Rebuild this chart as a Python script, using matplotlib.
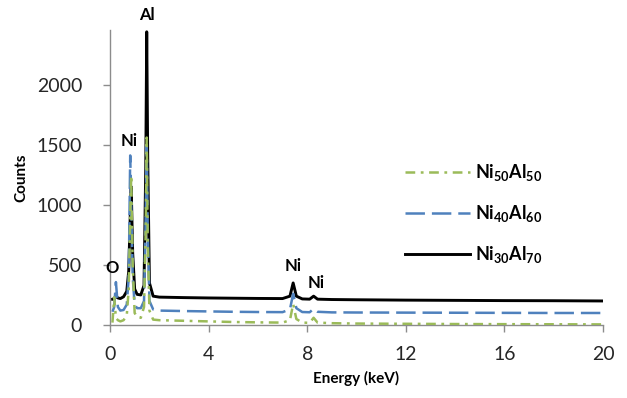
import matplotlib
matplotlib.use("Agg")
import matplotlib.pyplot as plt
from matplotlib.lines import Line2D

plt.rcParams['font.family'] = ['Lato', 'DejaVu Sans']
plt.rcParams['mathtext.fontset'] = 'custom'
plt.rcParams['mathtext.bf'] = 'Lato:bold'
plt.rcParams['mathtext.rm'] = 'Lato:bold'
plt.rcParams['lines.scale_dashes'] = False

# ---- data ----
energy = [0.1, 0.17, 0.24, 0.32, 0.42, 0.55, 0.68, 0.76, 0.82, 0.86, 0.92, 1.0, 1.1, 1.25,
          1.38, 1.45, 1.49, 1.53, 1.6, 1.75, 2.0, 3, 4, 5, 6, 7.0, 7.3, 7.43, 7.56, 7.8,
          8.1, 8.26, 8.42, 9, 10, 12, 14, 16, 18, 20]

ni30al70 = [215, 220, 240, 225, 220, 235, 280, 450, 900, 1150, 600, 300, 255, 250,
            330, 1300, 2440, 1400, 350, 240, 232, 228, 225, 223, 221, 220, 240, 350, 240, 217,
            215, 240, 215, 212, 210, 207, 205, 203, 202, 200]

ni40al60 = [110, 150, 357, 150, 120, 125, 170, 400, 1411, 1000, 400, 170, 140, 140,
            200, 900, 1500, 800, 200, 130, 120, 116, 113, 110, 108, 107, 130, 260, 140, 108,
            106, 135, 110, 105, 104, 103, 102, 101, 100, 100]

ni50al50 = [20, 230, 60, 40, 30, 40, 80, 300, 900, 1245, 500, 100, 66, 60,
            150, 800, 1560, 700, 120, 45, 40, 35, 30, 25, 22, 20, 40, 175, 50, 20,
            18, 60, 20, 15, 12, 10, 8, 7, 6, 5]

series_labels = [r'$\mathbf{Ni_{50}Al_{50}}$', r'$\mathbf{Ni_{40}Al_{60}}$', r'$\mathbf{Ni_{30}Al_{70}}$']
x_ticks = [0, 4, 8, 12, 16, 20]
y_ticks = [0, 500, 1000, 1500, 2000]

peak_labels = ['O', 'Ni', 'Al', 'Ni', 'Ni']
peak_x = [0.08, 0.77, 1.5, 7.42, 8.36]
peak_y = [473, 1535, 2581, 490, 349]

# ---- figure ----
fig = plt.figure(figsize=(6.27, 3.98), dpi=100)
ax = fig.add_axes([110/627, 1-325/398, (603-110)/627, (325-30)/398])

green = '#9BBB59'
blue = '#4F81BD'

l3, = ax.plot(energy, ni30al70, color='black', lw=2.1, zorder=2)
l2, = ax.plot(energy, ni40al60, color=blue, lw=1.8, dashes=(14, 5), zorder=3)
l1, = ax.plot(energy, ni50al50, color=green, lw=1.8, dashes=(7, 4, 2, 4), zorder=4)

ax.set_xlim(0, 20)
ax.set_ylim(0, 2455)
ax.set_xticks(x_ticks)
ax.set_yticks(y_ticks)

for s in ['top', 'right']:
    ax.spines[s].set_visible(False)
for s in ['left', 'bottom']:
    ax.spines[s].set_color('#8c8c8c')
    ax.spines[s].set_linewidth(1.0)

ax.tick_params(axis='both', direction='out', length=5, width=1, color='#8c8c8c',
               labelsize=14, labelcolor='#262626')
ax.tick_params(axis='x', pad=10)
ax.tick_params(axis='y', pad=15)

ax.set_xlabel('Energy (keV)', fontsize=11, fontweight='bold', labelpad=6)
ax.set_ylabel('Counts', fontsize=11, fontweight='bold', labelpad=6)

for t, x, y in zip(peak_labels, peak_x, peak_y):
    ax.text(x, y, t, fontsize=12, fontweight='bold', ha='center', va='center', clip_on=False)

leg = fig.legend([l1, l2, l3], series_labels, loc='upper left',
                 bbox_to_anchor=(405/627, 1-162/398), frameon=False, fontsize=13,
                 handlelength=3.6, handletextpad=0.3, labelspacing=1.12,
                 borderpad=0, borderaxespad=0)

fig.savefig('out.png', dpi=100)
